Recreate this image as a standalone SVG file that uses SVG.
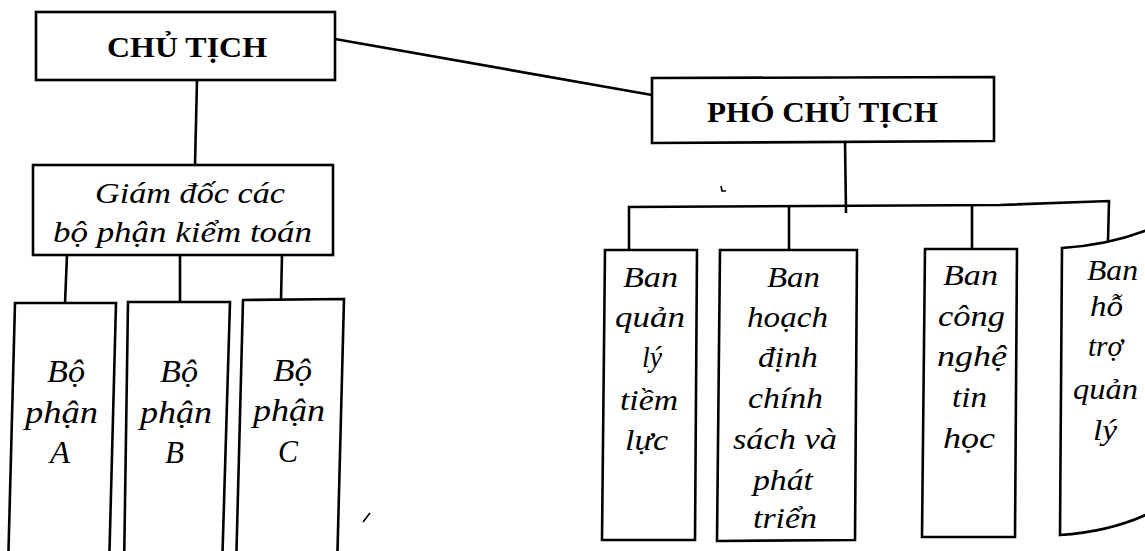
<svg xmlns="http://www.w3.org/2000/svg" width="1145" height="551" viewBox="0 0 1145 551">
  <style>
    .box { fill: #ffffff; stroke: #000000; stroke-width: 2.6; stroke-linejoin: miter; }
    .wire { fill: none; stroke: #000000; stroke-width: 2.6; }
    .title { font-family: "Liberation Serif", "Times New Roman", serif; font-weight: bold; font-size: 30px; fill: #000000; }
    .label { font-family: "Liberation Serif", "Times New Roman", serif; font-style: italic; font-size: 29px; fill: #000000; }
    .big { font-size: 32px; }
    .speck { fill: none; stroke: #000000; stroke-width: 1.6; }
  </style>
  <rect x="0" y="0" width="1145" height="551" fill="#ffffff"/>

  <!-- connectors -->
  <g id="connectors">
    <path class="wire" d="M335,39 L652,95"/>
    <path class="wire" d="M197,80 L195,165"/>
    <path class="wire" d="M67,255 L65,303"/>
    <path class="wire" d="M180,255 L180,302"/>
    <path class="wire" d="M282,255 L281,300"/>
    <path class="wire" d="M845,141 L846,213"/>
    <path class="wire" d="M629,250 L629,207 L1000,205 L1109,201 L1108,242"/>
    <path class="wire" d="M789,206 L789,250"/>
    <path class="wire" d="M972,205 L972,249"/>
  </g>

  <!-- chairman -->
  <g id="chu-tich">
    <rect class="box" x="36" y="12" width="299" height="68"/>
    <text class="title" x="107" y="57" textLength="160" lengthAdjust="spacingAndGlyphs">CHỦ TỊCH</text>
  </g>

  <!-- vice chairman -->
  <g id="pho-chu-tich">
    <polygon class="box" points="652,78 994,77 994,141 652,143"/>
    <text class="title" x="707" y="122" textLength="231" lengthAdjust="spacingAndGlyphs">PHÓ CHỦ TỊCH</text>
  </g>

  <!-- audit director -->
  <g id="giam-doc">
    <rect class="box" x="33" y="165" width="300" height="90"/>
    <text class="label" x="95" y="203" textLength="190" lengthAdjust="spacingAndGlyphs">Giám đốc các</text>
    <text class="label" x="53" y="242" textLength="259" lengthAdjust="spacingAndGlyphs">bộ phận kiểm toán</text>
  </g>

  <!-- audit divisions -->
  <g id="bo-phan-a">
    <polygon class="box" points="15,303 116,303 109,570 8,570"/>
    <text class="label big" x="47" y="382" textLength="38" lengthAdjust="spacingAndGlyphs">Bộ</text>
    <text class="label big" x="25" y="423" textLength="73" lengthAdjust="spacingAndGlyphs">phận</text>
    <text class="label big" x="50" y="463" textLength="20" lengthAdjust="spacingAndGlyphs">A</text>
  </g>
  <g id="bo-phan-b">
    <polygon class="box" points="128,302 230,302 222,570 124,570"/>
    <text class="label big" x="160" y="382" textLength="38" lengthAdjust="spacingAndGlyphs">Bộ</text>
    <text class="label big" x="140" y="423" textLength="72" lengthAdjust="spacingAndGlyphs">phận</text>
    <text class="label big" x="165" y="463" textLength="19" lengthAdjust="spacingAndGlyphs">B</text>
  </g>
  <g id="bo-phan-c">
    <polygon class="box" points="243,300 344,299 337,570 236,570"/>
    <text class="label big" x="273" y="381" textLength="39" lengthAdjust="spacingAndGlyphs">Bộ</text>
    <text class="label big" x="253" y="421" textLength="72" lengthAdjust="spacingAndGlyphs">phận</text>
    <text class="label big" x="278" y="462" textLength="20" lengthAdjust="spacingAndGlyphs">C</text>
  </g>

  <!-- boards under the vice chairman -->
  <g id="ban-quan-ly-tiem-luc">
    <polygon class="box" points="605,250 697,250 695,540 602,540"/>
    <text class="label" x="623" y="287" textLength="55" lengthAdjust="spacingAndGlyphs">Ban</text>
    <text class="label" x="615" y="327" textLength="70" lengthAdjust="spacingAndGlyphs">quản</text>
    <text class="label" x="642" y="367" textLength="20" lengthAdjust="spacingAndGlyphs">lý</text>
    <text class="label" x="620" y="410" textLength="58" lengthAdjust="spacingAndGlyphs">tiềm</text>
    <text class="label" x="625" y="450" textLength="43" lengthAdjust="spacingAndGlyphs">lực</text>
  </g>
  <g id="ban-hoach-dinh">
    <polygon class="box" points="720,250 857,250 855,540 717,541"/>
    <text class="label" x="767" y="287" textLength="53" lengthAdjust="spacingAndGlyphs">Ban</text>
    <text class="label" x="747" y="327" textLength="81" lengthAdjust="spacingAndGlyphs">hoạch</text>
    <text class="label" x="758" y="367" textLength="60" lengthAdjust="spacingAndGlyphs">định</text>
    <text class="label" x="748" y="408" textLength="75" lengthAdjust="spacingAndGlyphs">chính</text>
    <text class="label" x="733" y="449" textLength="104" lengthAdjust="spacingAndGlyphs">sách và</text>
    <text class="label" x="753" y="490" textLength="60" lengthAdjust="spacingAndGlyphs">phát</text>
    <text class="label" x="753" y="528" textLength="64" lengthAdjust="spacingAndGlyphs">triển</text>
  </g>
  <g id="ban-cong-nghe">
    <polygon class="box" points="925,249 1017,249 1015,537 922,537"/>
    <text class="label" x="943" y="285" textLength="55" lengthAdjust="spacingAndGlyphs">Ban</text>
    <text class="label" x="938" y="326" textLength="67" lengthAdjust="spacingAndGlyphs">công</text>
    <text class="label" x="937" y="366" textLength="70" lengthAdjust="spacingAndGlyphs">nghệ</text>
    <text class="label" x="952" y="407" textLength="35" lengthAdjust="spacingAndGlyphs">tin</text>
    <text class="label" x="943" y="448" textLength="52" lengthAdjust="spacingAndGlyphs">học</text>
  </g>
  <g id="ban-ho-tro">
    <path class="box" d="M1062,248 Q1110,245 1150,229 L1150,513 Q1110,532 1060,535 Z"/>
    <text class="label" x="1087" y="280" textLength="51" lengthAdjust="spacingAndGlyphs">Ban</text>
    <text class="label" x="1090" y="316" textLength="33" lengthAdjust="spacingAndGlyphs">hỗ</text>
    <text class="label" x="1088" y="356" textLength="35" lengthAdjust="spacingAndGlyphs">trợ</text>
    <text class="label" x="1073" y="399" textLength="65" lengthAdjust="spacingAndGlyphs">quản</text>
    <text class="label" x="1093" y="440" textLength="24" lengthAdjust="spacingAndGlyphs">lý</text>
  </g>

  <!-- stray marks on the sheet -->
  <path class="speck" d="M721,186 L722,191 L726,191"/>
  <path class="speck" d="M363,522 L370,513"/>
</svg>
